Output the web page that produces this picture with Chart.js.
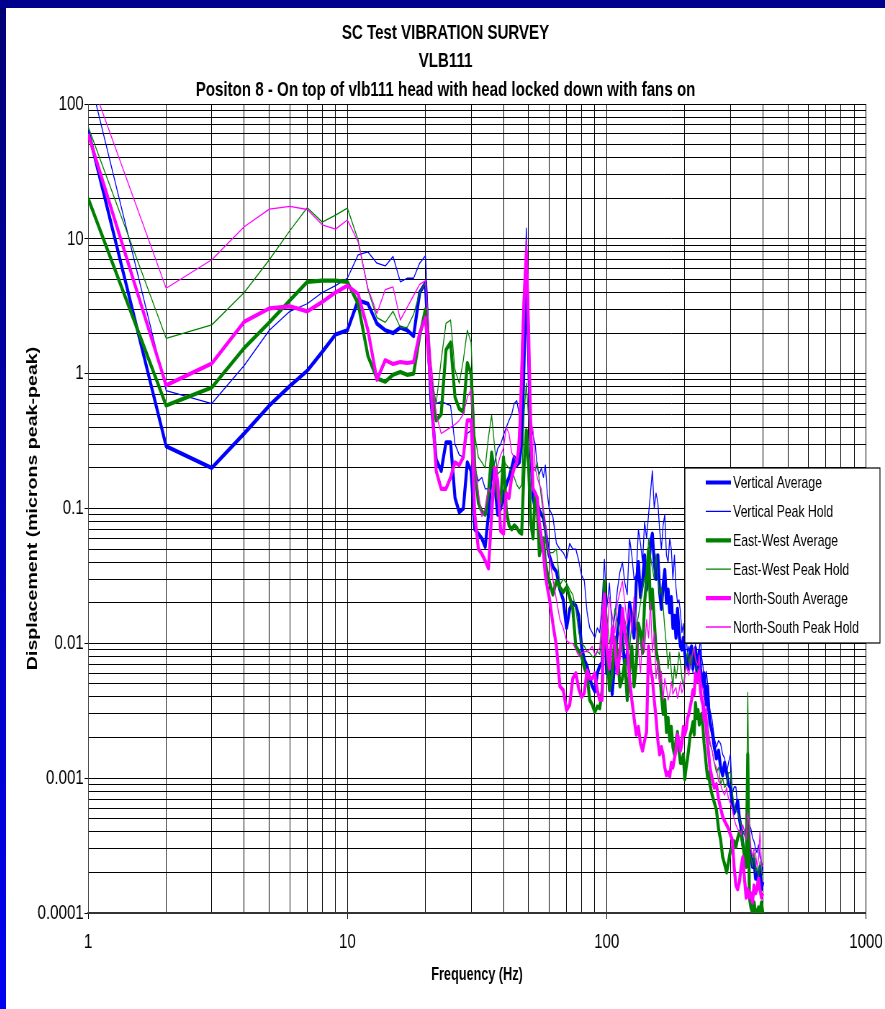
<!DOCTYPE html>
<html>
<head>
<meta charset="utf-8">
<title>SC Test Vibration Survey - VLB111</title>
<script src="https://cdn.jsdelivr.net/npm/chart.js@4.4.1/dist/chart.umd.min.js"></script>
<style>
  html, body { margin: 0; padding: 0; }
  body {
    width: 885px; height: 1009px; overflow: hidden; position: relative;
    background: linear-gradient(#000074, #0000f2);
  }
  #topbar { position: absolute; left: 0; top: 0; width: 885px; height: 8px; background: #00008e; }
  #frame { position: absolute; left: 6px; top: 8px; width: 879px; height: 1001px; background: #fff; overflow: hidden; }
  /* the sheet was drawn wide and squeezed horizontally */
  #wide { width: 1221px; height: 1001px; transform: scaleX(0.7199); transform-origin: 0 0; }
</style>
</head>
<body>
<div id="topbar"></div>
<div id="frame">
  <div id="wide"><canvas id="vibChart" width="1221" height="1001"></canvas></div>
</div>
<script>
const titleLines = [
  'SC Test VIBRATION SURVEY',
  'VLB111',
  'Positon 8 - On top of vlb111 head with head locked down with fans on'
];

const xDecades = [1, 10, 100, 1000];
const xTickLabels = ['1', '10', '100', '1000'];
const yDecades = [0.0001, 0.001, 0.01, 0.1, 1, 10, 100];
const yTickLabels = ['0.0001', '0.001', '0.01', '0.1', '1', '10', '100'];
const minorSteps = [1, 2, 3, 4, 5, 6, 7, 8, 9];

// frequency bins (Hz)
const freqHz = [
  1, 2, 3, 4, 5, 6, 7, 8, 9, 10,
  11, 12, 13, 14, 15, 16, 17, 18, 19, 20,
  21, 22, 23, 24, 25, 26, 27, 28, 29, 30,
  31, 32, 33, 34, 35, 36, 37, 38, 39, 40,
  41, 42, 43, 44, 45, 46, 47, 48, 49, 50,
  51, 52, 53, 54, 55, 56, 57, 58, 59, 60,
  62, 64, 66, 68, 70, 72, 74, 76, 78, 80,
  82, 84, 86, 88, 90, 92, 94, 96, 98, 100,
  102.5, 105, 107.5, 110, 112.5, 115, 117.5, 120, 122.5, 125,
  127.5, 130, 132.5, 135, 137.5, 140, 142.5, 145, 147.5, 150,
  152.5, 155, 157.5, 160, 162.5, 165, 167.5, 170, 172.5, 175,
  177.5, 180, 182.5, 185, 187.5, 190, 192.5, 195, 197.5, 200,
  202.5, 205, 207.5, 210, 212.5, 215, 217.5, 220, 222.5, 225,
  227.5, 230, 232.5, 235, 237.5, 240, 242.5, 245, 247.5, 250,
  255, 260, 265, 270, 275, 280, 285, 290, 295, 300,
  305, 310, 315, 320, 325, 330, 335, 340, 345, 350,
  355, 360, 365, 370, 375, 380, 385, 390, 395, 400
];

// displacement, microns peak-peak
const vertAvg = [
  64, 0.29, 0.2, 0.36, 0.58, 0.81, 1.05, 1.45, 1.95, 2.1,
  3.5, 3.3, 2.35, 2.1, 2.0, 2.2, 2.1, 1.9, 4.0, 4.7,
  0.64, 0.23, 0.19, 0.31, 0.31, 0.12, 0.094, 0.1, 0.22, 0.19,
  0.07, 0.065, 0.06, 0.052, 0.09, 0.2, 0.15, 0.09, 0.1, 0.13,
  0.15, 0.17, 0.2, 0.24, 0.21, 0.22, 0.3, 1.2, 5.7, 1.4,
  0.25, 0.12, 0.1, 0.11, 0.097, 0.09, 0.085, 0.07, 0.055, 0.045,
  0.037, 0.034, 0.025, 0.021, 0.013, 0.018, 0.02, 0.019, 0.016, 0.0095,
  0.0075, 0.0068, 0.0055, 0.0048, 0.0044, 0.006, 0.0068, 0.0072, 0.02, 0.006,
  0.0085, 0.0042, 0.0075, 0.012, 0.019, 0.011, 0.0065, 0.0085, 0.02, 0.016,
  0.011, 0.028, 0.04, 0.022, 0.028, 0.045, 0.025, 0.035, 0.055, 0.065,
  0.04, 0.03, 0.045, 0.024, 0.018, 0.027, 0.035, 0.02, 0.025, 0.017,
  0.022, 0.013, 0.016, 0.011, 0.018, 0.012, 0.0095, 0.009, 0.011, 0.0085,
  0.0068, 0.0078, 0.0065, 0.0088, 0.0095, 0.0065, 0.0078, 0.0092, 0.0062, 0.0072,
  0.0088, 0.0065, 0.0055, 0.0048, 0.006, 0.0042, 0.0035, 0.0048, 0.0032, 0.0026,
  0.0022, 0.0017, 0.0014, 0.0016, 0.0012, 0.00105, 0.0013, 0.0011, 0.0009, 0.00085,
  0.00065, 0.00055, 0.0006, 0.00068, 0.0005, 0.00042, 0.00032, 0.00028, 0.00025, 0.00036,
  0.0003, 0.00027, 0.00022, 0.00025, 0.00018, 0.0002, 0.00016, 0.00022, 0.00015, 0.00017
];

const vertPeak = [
  175, 0.75, 0.6, 1.15, 2.1, 2.9, 3.3, 4.0, 4.5, 5.1,
  7.6, 8.0, 6.6, 6.3, 7.4, 4.8, 5.1, 5.1, 6.6, 7.5,
  0.9, 0.6, 0.62, 0.6, 0.58, 0.3, 0.25, 0.24, 0.36, 0.38,
  0.2, 0.16, 0.17, 0.14, 0.14, 0.17, 0.22, 0.28, 0.3, 0.35,
  0.4, 0.45, 0.5, 0.6, 0.63, 0.5, 0.57, 2.5, 12, 3.0,
  0.42, 0.35, 0.3, 0.2, 0.18, 0.2, 0.17, 0.21, 0.13, 0.1,
  0.087, 0.055, 0.05, 0.047, 0.042, 0.055, 0.05, 0.05, 0.041, 0.032,
  0.029, 0.017, 0.013, 0.012, 0.011, 0.013, 0.012, 0.02, 0.042, 0.018,
  0.028, 0.012, 0.016, 0.025, 0.034, 0.04, 0.028, 0.023, 0.06, 0.045,
  0.03, 0.032, 0.07, 0.055, 0.04, 0.08, 0.06, 0.09, 0.13, 0.19,
  0.1, 0.13, 0.11, 0.07, 0.05, 0.075, 0.09, 0.045, 0.04, 0.06,
  0.05, 0.03, 0.045, 0.026, 0.02, 0.021, 0.017, 0.012, 0.014, 0.0095,
  0.011, 0.0086, 0.0095, 0.0075, 0.0085, 0.006, 0.0078, 0.0098, 0.007, 0.0075,
  0.009, 0.011, 0.0078, 0.0068, 0.0055, 0.005, 0.0062, 0.005, 0.0038, 0.0032,
  0.0027, 0.002, 0.0017, 0.0019, 0.0018, 0.0015, 0.0014, 0.0011, 0.0013, 0.0015,
  0.00077, 0.00086, 0.00086, 0.0006, 0.00055, 0.00046, 0.0004, 0.00038, 0.00045, 0.00052,
  0.00045, 0.00042, 0.00036, 0.00034, 0.0003, 0.00028, 0.00032, 0.00026, 0.00024, 0.0002
];

const ewAvg = [
  20, 0.58, 0.79, 1.55, 2.4, 3.5, 4.8, 4.9, 4.9, 4.8,
  3.3, 1.35, 0.92, 0.87, 0.98, 1.03, 0.98, 1.0, 1.9, 3.0,
  0.8, 0.45, 0.5, 1.5, 1.7, 0.67, 0.55, 0.52, 1.2, 1.0,
  0.2, 0.11, 0.095, 0.09, 0.13, 0.26, 0.18, 0.12, 0.11, 0.24,
  0.097, 0.075, 0.07, 0.075, 0.072, 0.067, 0.065, 0.2, 0.38, 0.2,
  0.077, 0.06, 0.13, 0.1, 0.045, 0.055, 0.06, 0.04, 0.033, 0.029,
  0.023, 0.029, 0.026, 0.024, 0.026, 0.022, 0.018, 0.0095, 0.0088, 0.008,
  0.0066, 0.0058, 0.0038, 0.0035, 0.0031, 0.0034, 0.0033, 0.0045, 0.029, 0.0095,
  0.0045, 0.006, 0.011, 0.0085, 0.0048, 0.0055, 0.0075, 0.0038, 0.0062, 0.0095,
  0.0048, 0.007, 0.014, 0.012, 0.0085, 0.02, 0.03, 0.05, 0.018, 0.025,
  0.015, 0.009, 0.0075, 0.006, 0.0042, 0.003, 0.0038, 0.0022, 0.0028, 0.0019,
  0.0024, 0.0017, 0.0015, 0.0019, 0.0022, 0.0016, 0.0013, 0.0013, 0.0015, 0.00098,
  0.0012, 0.0014, 0.0017, 0.0021, 0.0023, 0.0026, 0.0021, 0.0036, 0.0028, 0.0032,
  0.0025, 0.0027, 0.003, 0.0024, 0.0018, 0.0015, 0.0012, 0.001, 0.0011, 0.0009,
  0.00075, 0.00066, 0.00058, 0.00042, 0.00035, 0.00026, 0.00023, 0.0002, 0.00024, 0.00029,
  0.0003, 0.00034, 0.00031, 0.00036, 0.0004, 0.00038, 0.00032, 0.00026, 0.00022, 0.0015,
  0.00013, 0.00011, 0.0001, 0.00012, 0.0001, 0.0001, 0.00011, 0.0001, 0.00012, 0.0001
];

const ewPeak = [
  68, 1.83, 2.3, 4.0, 7.0, 11.5, 17, 13.3, 15, 16.9,
  9.8, 4.2, 2.6, 2.4, 2.9, 2.2, 2.2, 2.75, 4.0, 4.7,
  1.0, 0.6, 1.26, 2.36, 2.5, 1.07, 0.85, 1.26, 2.1, 1.7,
  0.35, 0.24, 0.22, 0.2, 0.34, 0.49, 0.28, 0.18, 0.19, 0.23,
  0.21, 0.2, 0.19, 0.17, 0.15, 0.14, 0.15, 0.5, 0.85, 0.45,
  0.22, 0.2, 0.19, 0.22, 0.16, 0.12, 0.09, 0.06, 0.047, 0.047,
  0.047, 0.05, 0.027, 0.03, 0.028, 0.025, 0.023, 0.018, 0.012, 0.01,
  0.0095, 0.0087, 0.0085, 0.008, 0.0078, 0.0087, 0.0083, 0.012, 0.029, 0.017,
  0.01, 0.012, 0.018, 0.014, 0.011, 0.0086, 0.015, 0.012, 0.009, 0.014,
  0.018, 0.013, 0.016, 0.02, 0.026, 0.031, 0.024, 0.06, 0.045, 0.036,
  0.03, 0.046, 0.03, 0.023, 0.026, 0.019, 0.013, 0.0095, 0.0065, 0.0086,
  0.0062, 0.0047, 0.0068, 0.0055, 0.0065, 0.0086, 0.0072, 0.0055, 0.0048, 0.006,
  0.0075, 0.0086, 0.007, 0.0082, 0.0068, 0.009, 0.0085, 0.0075, 0.0066, 0.006,
  0.0052, 0.0045, 0.0041, 0.0033, 0.0036, 0.003, 0.0024, 0.0026, 0.0021, 0.0018,
  0.0016, 0.0013, 0.0011, 0.0012, 0.0009, 0.001, 0.00085, 0.0009, 0.0011, 0.0011,
  0.0008, 0.00062, 0.00058, 0.00055, 0.0005, 0.00045, 0.0004, 0.00038, 0.00034, 0.0043,
  0.0003, 0.00026, 0.00022, 0.00028, 0.0002, 0.00022, 0.00018, 0.00024, 0.0002, 0.00019
];

const nsAvg = [
  60, 0.82, 1.19, 2.43, 3.05, 3.16, 2.9, 3.4, 4.0, 4.5,
  3.9, 2.1, 0.9, 1.26, 1.18, 1.22, 1.2, 1.22, 2.0, 2.6,
  0.8, 0.19, 0.14, 0.14, 0.17, 0.22, 0.21, 0.24, 0.45, 0.45,
  0.09, 0.05, 0.046, 0.041, 0.036, 0.09, 0.2, 0.16, 0.068, 0.065,
  0.13, 0.12, 0.17, 0.2, 0.22, 0.29, 0.9, 3.5, 8.0, 2.0,
  0.36, 0.14, 0.13, 0.12, 0.078, 0.06, 0.047, 0.032, 0.026, 0.022,
  0.014, 0.0095, 0.0048, 0.0045, 0.0032, 0.0035, 0.0055, 0.006, 0.0046, 0.004,
  0.0043, 0.0063, 0.0055, 0.0055, 0.006, 0.0045, 0.0038, 0.0038, 0.023, 0.0095,
  0.0065, 0.013, 0.0095, 0.006, 0.0085, 0.018, 0.012, 0.0095, 0.0055, 0.0038,
  0.0028, 0.0021, 0.0024, 0.0018, 0.0016, 0.0019, 0.0022, 0.0095, 0.0065, 0.0055,
  0.0038, 0.0028, 0.0019, 0.0015, 0.0017, 0.0015, 0.0012, 0.00105, 0.0011, 0.00103,
  0.0013, 0.0012, 0.0014, 0.0016, 0.0021, 0.0019, 0.0016, 0.0018, 0.0024, 0.0021,
  0.0023, 0.0028, 0.003, 0.0034, 0.0038, 0.0045, 0.0042, 0.006, 0.0052, 0.0055,
  0.0062, 0.0045, 0.0038, 0.0035, 0.0027, 0.003, 0.0022, 0.0018, 0.0015, 0.0012,
  0.001, 0.00085, 0.0009, 0.0007, 0.0006, 0.00052, 0.00048, 0.00045, 0.00042, 0.00038,
  0.00035, 0.00022, 0.00016, 0.00015, 0.00017, 0.00022, 0.00026, 0.00018, 0.00013, 0.00015,
  0.00013, 0.00014, 0.00012, 0.00016, 0.00014, 0.00015, 0.00018, 0.00015, 0.00013, 0.00014
];

const nsPeak = [
  172, 4.3, 7.0, 12.3, 16.6, 17.4, 16.5, 12.7, 11.8, 13.8,
  9.5, 4.3, 2.8, 4.2, 4.4, 2.5, 3.1, 3.8, 4.6, 4.9,
  1.26, 0.5, 0.36, 0.38, 0.4, 0.42, 0.45, 0.5, 0.67, 0.76,
  0.2, 0.13, 0.087, 0.1, 0.14, 0.13, 0.15, 0.21, 0.25, 0.28,
  0.4, 0.36, 0.26, 0.24, 0.22, 0.45, 1.8, 5.0, 10, 3.5,
  0.45, 0.38, 0.2, 0.17, 0.15, 0.14, 0.1, 0.08, 0.055, 0.045,
  0.03, 0.021, 0.015, 0.013, 0.0105, 0.01, 0.01, 0.009, 0.008, 0.0085,
  0.0087, 0.0087, 0.009, 0.0095, 0.0082, 0.0088, 0.0092, 0.017, 0.023, 0.0095,
  0.022, 0.016, 0.012, 0.02, 0.024, 0.029, 0.02, 0.014, 0.018, 0.012,
  0.022, 0.013, 0.009, 0.006, 0.011, 0.0086, 0.015, 0.011, 0.02, 0.0086,
  0.012, 0.0055, 0.0075, 0.0048, 0.0062, 0.0038, 0.0055, 0.0047, 0.0038, 0.0042,
  0.0052, 0.0042, 0.0045, 0.0047, 0.0039, 0.0044, 0.0052, 0.0043, 0.0046, 0.0055,
  0.0068, 0.0063, 0.0058, 0.0075, 0.0079, 0.0086, 0.0092, 0.0078, 0.0072, 0.0068,
  0.0082, 0.0055, 0.005, 0.0045, 0.0038, 0.003, 0.0034, 0.0025, 0.0022, 0.0019,
  0.0016, 0.0013, 0.0012, 0.00095, 0.0009, 0.0008, 0.00075, 0.00085, 0.0007, 0.00065,
  0.0006, 0.0005, 0.00045, 0.00042, 0.0004, 0.00038, 0.00045, 0.0004, 0.00035, 0.00056,
  0.00045, 0.0003, 0.00026, 0.0003, 0.00028, 0.00022, 0.00025, 0.0004, 0.00024, 0.00022
];

const FONT = '"Liberation Sans", Arial, Helvetica, sans-serif';
const THICK = 4.2;
const THIN = 1.3;

// every 1..9 step of each decade, so all the log grid lines get drawn
function gridTicks(decades) {
  const ticks = [];
  decades.forEach((d, i) => {
    if (i === decades.length - 1) {
      ticks.push({ value: d, major: true });
      return;
    }
    minorSteps.forEach((m) => ticks.push({ value: +(m * d).toPrecision(3), major: m === 1 }));
  });
  return ticks;
}

function decadeLabel(decades, labels, value) {
  const i = decades.indexOf(value);
  return i >= 0 ? labels[i] : '';
}

function series(label, values, color, width, order) {
  return {
    label,
    data: freqHz.map((f, i) => ({ x: f, y: values[i] })),
    borderColor: color,
    backgroundColor: color,
    borderWidth: width,
    borderJoinStyle: 'round',
    pointRadius: 0,
    tension: 0,
    fill: false,
    clip: 0,
    order
  };
}

// legend box that sits over the plot area, like the spreadsheet one
const boxLegend = {
  id: 'boxLegend',
  afterDatasetsDraw(chart, args, opts) {
    const ctx = chart.ctx;
    ctx.save();
    ctx.fillStyle = '#fff';
    ctx.fillRect(opts.left, opts.top, opts.width, opts.height);
    ctx.strokeStyle = '#000';
    ctx.lineWidth = 1.2;
    ctx.strokeRect(opts.left, opts.top, opts.width, opts.height);
    ctx.font = opts.fontSize + 'px ' + FONT;
    ctx.textBaseline = 'middle';
    chart.data.datasets.forEach((ds, i) => {
      const y = opts.top + opts.firstRow + i * opts.rowGap;
      ctx.beginPath();
      ctx.strokeStyle = ds.borderColor;
      ctx.lineWidth = ds.borderWidth;
      ctx.moveTo(opts.sampleX, y);
      ctx.lineTo(opts.sampleX + opts.sampleLen, y);
      ctx.stroke();
      ctx.fillStyle = '#000';
      ctx.fillText(ds.label, opts.textX, y + 1);
    });
    ctx.restore();
  }
};

const vibChart = new Chart(document.getElementById('vibChart'), {
  type: 'line',
  data: {
    datasets: [
      series('Vertical Average', vertAvg, '#0000ff', THICK, 5),
      series('Vertical Peak Hold', vertPeak, '#0000ff', THIN, 4),
      series('East-West Average', ewAvg, '#008000', THICK, 3),
      series('East-West Peak Hold', ewPeak, '#008000', THIN, 2),
      series('North-South Average', nsAvg, '#ff00ff', THICK, 1),
      series('North-South Peak Hold', nsPeak, '#ff00ff', THIN, 0)
    ]
  },
  options: {
    responsive: false,
    animation: false,
    events: [],
    layout: { padding: 0 },
    plugins: {
      legend: { display: false },
      tooltip: { enabled: false },
      title: {
        display: true,
        text: titleLines,
        color: '#000',
        font: { family: FONT, size: 21, weight: 'bold', lineHeight: 28.5 / 21 },
        padding: { top: 10.5, bottom: 0 }
      },
      boxLegend: {
        left: 943, top: 460, width: 271, height: 175,
        firstRow: 14.5, rowGap: 28.9,
        sampleX: 972, sampleLen: 35, textX: 1010, fontSize: 17
      }
    },
    scales: {
      x: {
        type: 'logarithmic',
        min: 1,
        max: 1000,
        afterBuildTicks: (scale) => { scale.ticks = gridTicks(xDecades); },
        afterFit: (scale) => {
          scale.height = 96;
          scale.paddingLeft = 0;
          scale.paddingRight = 26.4;
        },
        ticks: {
          autoSkip: false,
          maxRotation: 0,
          minRotation: 0,
          padding: 11,
          color: '#000',
          font: { family: FONT, size: 21 },
          callback: (v) => decadeLabel(xDecades, xTickLabels, v)
        },
        grid: {
          color: '#000',
          lineWidth: 1,
          tickLength: 6,
          tickColor: (c) => (c.tick && xDecades.includes(c.tick.value) ? '#000' : 'rgba(0,0,0,0)')
        },
        border: { color: '#333', width: 2 },
        title: {
          display: true,
          text: 'Frequency (Hz)',
          color: '#000',
          font: { family: FONT, size: 17.6, weight: 'bold' },
          padding: { top: 0, bottom: 23.4 }
        }
      },
      y: {
        type: 'logarithmic',
        min: 0.0001,
        max: 100,
        afterBuildTicks: (scale) => { scale.ticks = gridTicks(yDecades); },
        afterFit: (scale) => { scale.width = 114; },
        ticks: {
          autoSkip: false,
          padding: 1,
          color: '#000',
          font: { family: FONT, size: 21 },
          callback: (v) => decadeLabel(yDecades, yTickLabels, v)
        },
        grid: {
          color: '#000',
          lineWidth: 1,
          tickLength: 5,
          tickColor: (c) => (c.tick && yDecades.includes(c.tick.value) ? '#000' : 'rgba(0,0,0,0)')
        },
        border: { color: '#444', width: 1 },
        title: {
          display: true,
          text: 'Displacement (microns peak-peak)',
          color: '#000',
          font: { family: FONT, size: 19.6, weight: 'bold' },
          padding: { top: 25.7, bottom: 0 }
        }
      }
    }
  },
  plugins: [boxLegend]
});
</script>
</body>
</html>
